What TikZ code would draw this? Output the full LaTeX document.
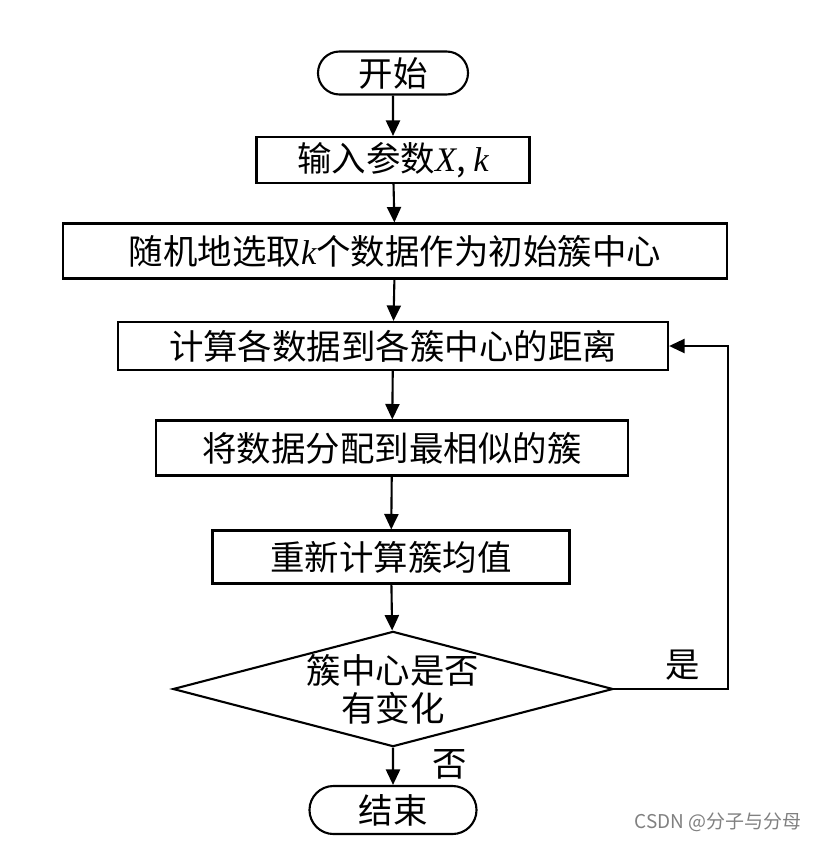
\documentclass[tikz,border=0pt]{standalone}
\usepackage{fontspec}
\setmainfont{Noto Sans CJK SC}
\newfontfamily\latinit{Liberation Serif}
\usepackage{tikz}
\usetikzlibrary{arrows.meta,positioning,calc,shapes.geometric,shapes.misc}

\tikzset{
  flowbox/.style={draw,line width=1.5pt,rectangle,inner sep=0pt,font=\fontsize{24.5}{28}\selectfont},
  termbox/.style={flowbox,rounded rectangle},
  decbox/.style={flowbox,diamond,aspect=3.8,align=center,font=\fontsize{24.5}{27}\selectfont},
  flowline/.style={line width=1.5pt,-{Triangle[length=11pt,width=10pt]}},
  lbl/.style={font=\fontsize{24.5}{28}\selectfont}
}
\newcommand{\varit}[1]{{\latinit\itshape #1}}

\begin{document}
\begin{tikzpicture}[x=0.025cm,y=-0.025cm]
\useasboundingbox (0,0) rectangle (818,842);
\node[termbox,minimum width=3.75cm,minimum height=1.075cm] (start) at (393,73) {开始};
\node[flowbox,minimum width=6.825cm,minimum height=1.15cm] (input) at (393,160) {输入参数\varit{X}, \varit{k}};
\node[flowbox,minimum width=16.575cm,minimum height=1.375cm] (init) at (395,251) {随机地选取\varit{k}个数据作为初始簇中心};
\node[flowbox,minimum width=13.75cm,minimum height=1.2cm] (dist) at (393,346) {计算各数据到各簇中心的距离};
\node[flowbox,minimum width=11.775cm,minimum height=1.375cm] (assign) at (392,448) {将数据分配到最相似的簇};
\node[flowbox,minimum width=8.925cm,minimum height=1.325cm] (mean) at (391,557) {重新计算簇均值};
\node[decbox,minimum width=11cm,minimum height=2.875cm] (check) at (393,689) {簇中心是否\\有变化};
\node[termbox,minimum width=4.175cm,minimum height=1.2cm] (stop) at (393,810) {结束};
\coordinate (loop) at (728,689);

\draw[flowline] (start) -- (input);
\draw[flowline] (input) -- (init);
\draw[flowline] (init) -- (dist);
\draw[flowline] (dist) -- (assign);
\draw[flowline] (assign) -- (mean);
\draw[flowline] (mean) -- (check);
\draw[flowline] (check) -- node[lbl,right=24pt,pos=0.45] {否} (stop);
\draw[flowline] (check.east) -- (loop) node[lbl,above left=2pt and 16pt] {是} |- (dist.east);

\node[font=\fontsize{13.5}{16}\selectfont,text=gray] (mark) at (718,822) {CSDN @分子与分母};
\end{tikzpicture}
\end{document}
